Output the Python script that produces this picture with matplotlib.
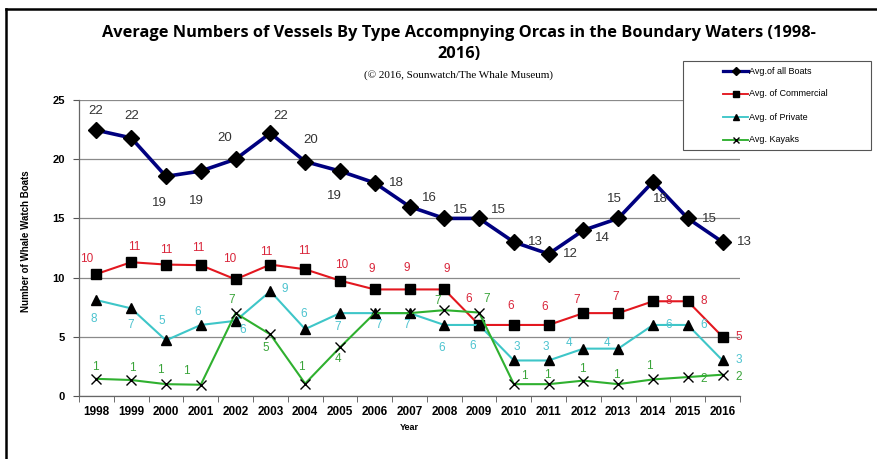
import matplotlib
matplotlib.use("Agg")
import matplotlib.pyplot as plt
from matplotlib.lines import Line2D
from matplotlib.patches import Rectangle

years = list(range(1998, 2017))

all_boats = [22.45, 21.8, 18.55, 19.0, 20.0, 22.2, 19.8, 19.0, 18.0, 16.0,
             15.0, 15.0, 13.0, 12.0, 14.0, 15.0, 18.1, 15.0, 13.0]
commercial = [10.3, 11.3, 11.1, 11.05, 9.85, 11.1, 10.7, 9.75, 9.0, 9.0,
              9.0, 6.0, 6.0, 6.0, 7.0, 7.0, 8.0, 8.0, 5.0]
private = [8.1, 7.4, 4.7, 6.0, 6.35, 8.85, 5.65, 7.0, 7.0, 7.0,
           6.0, 6.0, 3.0, 3.0, 4.0, 4.0, 6.0, 6.0, 3.0]
kayaks = [1.45, 1.35, 1.0, 0.95, 7.0, 5.2, 1.05, 4.1, 7.0, 7.0,
          7.25, 7.05, 1.0, 1.0, 1.3, 1.0, 1.4, 1.6, 1.8]

series_names = ["Avg.of all Boats", "Avg. of Commercial", "Avg. of Private", "Avg. Kayaks"]
y_ticks = [0, 5, 10, 15, 20, 25]

# label offsets in pixels (dx, dy upward); None hides a label
off_all = [(-1, 19), (1, 22), (-7, -27), (-4, -30), (-11, 21), (10, 17), (6, 22), (-6, -25),
           (22, 0), (20, 9), (16, 8), (19, 8), (22, 0), (22, 0), (19, -8), (-4, 19),
           (7, -17), (22, -1), (22, 0)]
off_com = [(-10, 15), (3, 15), (0, 15), (-3, 17), (-6, 20), (-4, 13), (-1, 18), (2, 16),
           (-3, 20), (-3, 21), (2, 20), (-10, 26), (-3, 19), (-4, 18), (-7, 13), (-3, 16),
           (16, 0), (16, 0), (16, 0)]
off_pri = [(-3, -19), (-1, -17), (-4, 19), (-3, 13), (7, -9), (14, 2), (-1, 15), (-2, -14),
           (4, -12), (-3, -12), (-3, -23), (-6, -21), (3, 13), (-3, 13), (-14, 6), (-11, 6),
           (16, 0), (16, 0), (16, 0)]
off_kay = [(-1, 12), (1, 12), (-6, 14), (-14, 14), (-4, 13), (-5, -14), (-4, 17), (-2, -12),
           None, None, (-7, 9), (8, 14), (10, 8), (-1, 9), (-1, 12), (-2, 9),
           (-4, 13), (16, -2), (16, -2)]

W, H = 877, 459
fig = plt.figure(figsize=(W / 100, H / 100), dpi=100)
fig.patch.set_facecolor("white")

ax = fig.add_axes([79 / W, 1 - 396 / H, (740 - 79) / W, (396 - 100) / H])

styles = [
    (all_boats, "#00007f", 2.6, "D", 8, "#333333", 9.5, off_all),
    (commercial, "#e3171f", 1.5, "s", 7.5, "#d9253a", 8.5, off_com),
    (private, "#3ec6c8", 1.5, "^", 7, "#4cc3cf", 8.5, off_pri),
    (kayaks, "#2fb02f", 1.5, "x", 6.5, "#3aa43a", 8.5, off_kay),
]

legend_items = []
for (vals, col, lw, mk, ms, lcol, fs, offs), name in zip(styles, series_names):
    kw = dict(color=col, lw=lw, marker=mk, markersize=ms, markerfacecolor="black",
              markeredgecolor="black", zorder=3)
    if mk == "x":
        kw["markeredgewidth"] = 1.0
    ax.plot(years, vals, **kw)
    for x, v, o in zip(years, vals, offs):
        if o is None:
            continue
        ax.annotate(f"{v:.0f}", (x, v), xytext=o, textcoords="offset pixels",
                    ha="center", va="center", fontsize=fs, color=lcol,
                    family="Liberation Sans", zorder=4)
    legend_items.append((name, col, lw, mk))

ax.set_xlim(1997.5, 2016.5)
ax.set_ylim(0, 25)
ax.set_yticks(y_ticks)
ax.set_xticks(years)
ax.set_xticks([y + 0.5 for y in [1997] + years], minor=True)
ax.tick_params(axis="x", which="major", length=0, pad=7)
ax.tick_params(axis="x", which="minor", length=4, color="#555555")
ax.tick_params(axis="y", length=4, color="#555555", pad=6)
for lab in ax.get_xticklabels() + ax.get_yticklabels():
    lab.set_fontweight("bold")
    lab.set_family("Liberation Sans")
for lab in ax.get_xticklabels():
    lab.set_fontsize(8.5)
for lab in ax.get_yticklabels():
    lab.set_fontsize(8)

ax.grid(axis="y", color="#8a8a8a", lw=0.9)
ax.set_axisbelow(True)
for s in ["top", "right"]:
    ax.spines[s].set_visible(False)
for s in ["left", "bottom"]:
    ax.spines[s].set_color("#666666")
    ax.spines[s].set_linewidth(0.9)

ax.set_xlabel("Year", fontsize=6.5, fontweight="bold", family="Liberation Sans", labelpad=4)
fig.text(26 / W, 1 - 241 / H, "Number of Whale Watch Boats", rotation=90,
         ha="center", va="center", fontsize=7, fontweight="bold", family="Liberation Sans")

fig.text(459 / W, 1 - 33 / H,
         "Average Numbers of Vessels By Type Accompnying Orcas in the Boundary Waters (1998-",
         ha="center", va="center", fontsize=11.8, fontweight="bold", family="Open Sans")
fig.text(459 / W, 1 - 54 / H, "2016)", ha="center", va="center",
         fontsize=11.8, fontweight="bold", family="Open Sans")
fig.text(458 / W, 1 - 75 / H, "(\u00a9 2016, Sounwatch/The Whale Museum)",
         ha="center", va="center", fontsize=8, family="Liberation Serif")

# legend box drawn in pixel-based figure coordinates
def fx(px):
    return px / W


def fy(py):
    return 1 - py / H


fig.add_artist(Rectangle((fx(683), fy(150)), fx(871) - fx(683), fy(61) - fy(150),
                         transform=fig.transFigure, facecolor="white",
                         edgecolor="#555555", lw=0.8, zorder=5))
row_y = [71, 94, 117, 140]
for (name, col, lw, mk), ry in zip(legend_items, row_y):
    fig.add_artist(Line2D([fx(723), fx(748)], [fy(ry), fy(ry)], transform=fig.transFigure,
                          color=col, lw=lw * 0.9, zorder=6))
    fig.add_artist(Line2D([fx(735.5)], [fy(ry)], transform=fig.transFigure, marker=mk,
                          markersize=4, markerfacecolor="black", markeredgecolor="black",
                          lw=0, zorder=7))
    fig.text(fx(749), fy(ry), name, ha="left", va="center", fontsize=6.5,
             family="Liberation Sans", zorder=7)

# page frame on the left and top
fig.add_artist(Line2D([6 / W, 6 / W], [0, 1 - 9 / H], transform=fig.transFigure,
                      color="black", lw=1.8))
fig.add_artist(Line2D([6 / W, 1], [1 - 9 / H, 1 - 9 / H], transform=fig.transFigure,
                      color="black", lw=1.8))

fig.savefig("out.png", dpi=100)
